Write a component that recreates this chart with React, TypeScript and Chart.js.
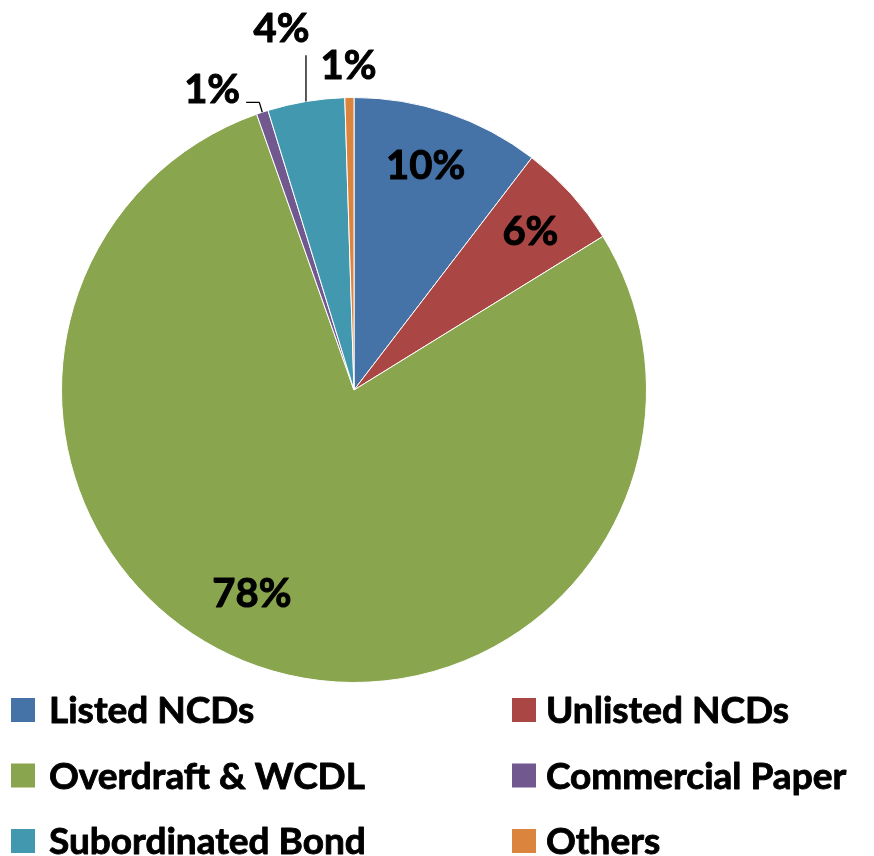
import React, { useEffect, useRef } from "react";
import { Chart, registerables } from "chart.js";

Chart.register(...registerables);

const categories: string[] = [
  "Listed NCDs",
  "Unlisted NCDs",
  "Overdraft & WCDL",
  "Commercial Paper",
  "Subordinated Bond",
  "Others",
];
const shares: number[] = [10.4, 5.8, 78.4, 0.65, 4.25, 0.5];
const labelTexts: string[] = ["10%", "6%", "78%", "1%", "4%", "1%"];

const colors = ["#4572A7", "#AA4643", "#89A54E", "#71588F", "#4198AF", "#DB843D"];
// label centres relative to pie centre, in units of radius
const labelPos: [number, number][] = [
  [0.245, -0.771],
  [0.603, -0.546],
  [-0.349, 0.692],
  [-0.485, -1.031],
  [-0.248, -1.24],
  [-0.019, -1.113],
];
const FONT = "Lato, 'Open Sans', sans-serif";

function boldText(ctx: CanvasRenderingContext2D, t: string, x: number, y: number) {
  ctx.strokeText(t, x, y);
  ctx.fillText(t, x, y);
}

const labelPlugin = {
  id: "pieLabels",
  afterDraw(chart: any) {
    const ctx = chart.ctx as CanvasRenderingContext2D;
    const meta = chart.getDatasetMeta(0);
    const arcs = meta.data;
    if (!arcs.length) return;
    const a0 = arcs[0] as any;
    const cx = a0.x;
    const cy = a0.y;
    const R = a0.outerRadius;
    const size = 40;
    ctx.save();
    ctx.font = `bold ${size}px ${FONT}`;
    ctx.fillStyle = "#000";
    ctx.strokeStyle = "#000";
    ctx.lineJoin = "round";
    ctx.textAlign = "center";
    ctx.textBaseline = "alphabetic";
    const capHalf = size * 0.36;
    arcs.forEach((arc: any, i: number) => {
      const lx = cx + labelPos[i][0] * R;
      const ly = cy + labelPos[i][1] * R;
      ctx.lineWidth = 1;
      boldText(ctx, labelTexts[i], lx, ly + capHalf);
      const mid = (arc.startAngle + arc.endAngle) / 2;
      const mx = cx + Math.cos(mid) * R;
      const my = cy + Math.sin(mid) * R;
      ctx.lineWidth = 1.3;
      if (i === 3) {
        const w = ctx.measureText(labelTexts[i]).width;
        const ey = ly + 14;
        ctx.beginPath();
        ctx.moveTo(lx + w / 2 + 6, ey);
        ctx.lineTo(mx - 3, ey);
        ctx.lineTo(mx, my);
        ctx.stroke();
      } else if (i === 4) {
        ctx.beginPath();
        ctx.moveTo(mx, my);
        ctx.lineTo(mx, ly + 28);
        ctx.stroke();
      }
    });

    // legend
    const lsize = 37;
    ctx.font = `bold ${lsize}px ${FONT}`;
    const lcap = lsize * 0.36;
    const rows = [710, 775.5, 841];
    const cols = [
      { box: 11, text: 49 },
      { box: 512, text: 546 },
    ];
    ctx.textAlign = "left";
    categories.forEach((name, i) => {
      const col = cols[i % 2];
      const y = rows[Math.floor(i / 2)];
      ctx.fillStyle = colors[i];
      ctx.fillRect(col.box, y - 12, 24, 24);
      ctx.fillStyle = "#000";
      ctx.lineWidth = 0.9;
      boldText(ctx, name, col.text, y + lcap);
    });
    ctx.restore();
  },
};

export default function App() {
  const ref = useRef<HTMLCanvasElement | null>(null);
  useEffect(() => {
    if (!ref.current) return;
    const chart = new Chart(ref.current, {
      type: "pie",
      data: {
        labels: categories,
        datasets: [
          {
            data: shares,
            backgroundColor: colors,
            borderColor: "#ffffff",
            borderWidth: 1,
          },
        ],
      },
      options: {
        animation: false,
        responsive: true,
        maintainAspectRatio: false,
        layout: { padding: { left: 61, top: 97, right: 227, bottom: 173 } },
        plugins: {
          legend: { display: false },
          tooltip: { enabled: false },
        },
      },
      plugins: [labelPlugin],
    });
    return () => chart.destroy();
  }, []);
  return (
    <div style={{ position: "absolute", left: 0, top: 0, width: 874, height: 856, background: "#fff" }}>
      <canvas ref={ref} />
    </div>
  );
}
